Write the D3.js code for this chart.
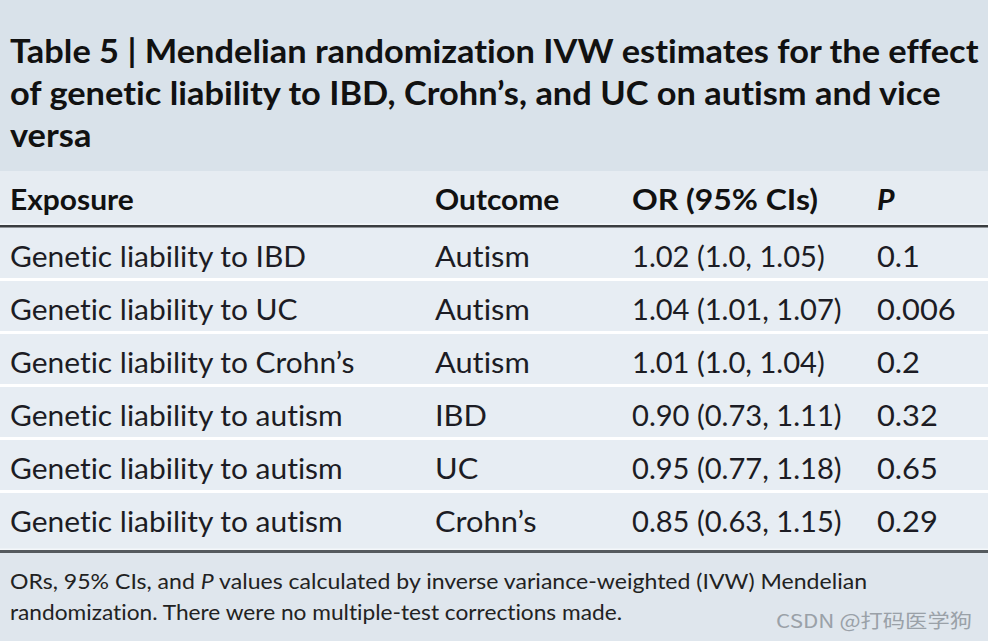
<!DOCTYPE html>
<html>
<head>
<meta charset="utf-8">
<script src="https://cdn.jsdelivr.net/npm/d3@7/dist/d3.min.js"></script>
<style>
  html, body { margin: 0; padding: 0; background: #dfe6ed; }
  svg { display: block; }
  text { font-variant-ligatures: none; }
</style>
</head>
<body>
<script>
// ---- data ----
const titleLines = [
  "Table 5 | Mendelian randomization IVW estimates for the effect",
  "of genetic liability to IBD, Crohn\u2019s, and UC on autism and vice",
  "versa"
];
const columns = ["Exposure", "Outcome", "OR (95% CIs)", "P"];
const exposures = [
  "Genetic liability to IBD",
  "Genetic liability to UC",
  "Genetic liability to Crohn\u2019s",
  "Genetic liability to autism",
  "Genetic liability to autism",
  "Genetic liability to autism"
];
const outcomes = ["Autism", "Autism", "Autism", "IBD", "UC", "Crohn\u2019s"];
const orEstimates = ["1.02", "1.04", "1.01", "0.90", "0.95", "0.85"];
const ciLower = ["1.0", "1.01", "1.0", "0.73", "0.77", "0.63"];
const ciUpper = ["1.05", "1.07", "1.04", "1.11", "1.18", "1.15"];
const pValues = ["0.1", "0.006", "0.2", "0.32", "0.65", "0.29"];
const footnoteLines = [
  ["ORs, 95% CIs, and ", "P", " values calculated by inverse variance-weighted (IVW) Mendelian"],
  ["randomization. There were no multiple-test corrections made."]
];
const watermark = "CSDN @\u6253\u7801\u533b\u5b66\u72d7";

// ---- layout ----
const W = 988, H = 641;
const svg = d3.select("body").append("svg").attr("width", W).attr("height", H);
const font = "Lato, 'Open Sans', sans-serif";

// column positions and per-column horizontal stretch of type
const colX = d3.scaleOrdinal().domain(columns).range([10, 435, 632, 877]);
const bodyStretch = d3.scaleOrdinal().domain(columns).range([1.07, 1.1, 1.04, 1.1]);
const headStretch = d3.scaleOrdinal().domain(columns).range([1.07, 1.07, 1.14, 1.08]);

// backgrounds
svg.append("rect").attr("x", 0).attr("y", 0).attr("width", W).attr("height", H).attr("fill", "#dfe6ed");
svg.append("rect").attr("x", 0).attr("y", 0).attr("width", W).attr("height", 171).attr("fill", "#d9e2ea");
svg.append("rect").attr("x", 0).attr("y", 171).attr("width", W).attr("height", 55).attr("fill", "#e6ecf2");
svg.append("rect").attr("x", 0).attr("y", 226).attr("width", W).attr("height", 323).attr("fill", "#e7edf3");

// title
svg.append("g").selectAll("text").data(titleLines).join("text")
  .attr("transform", (d, i) => `translate(10,${63 + i * 42}) scale(1.043,1)`)
  .attr("font-family", font).attr("font-weight", 700).attr("font-size", 33)
  .attr("fill", "#111")
  .text(d => d);

// header
svg.append("g").selectAll("text").data(columns).join("text")
  .attr("transform", d => `translate(${colX(d)},210) scale(${headStretch(d)},1)`)
  .attr("font-family", font).attr("font-weight", 700).attr("font-size", 28)
  .attr("font-style", d => d === "P" ? "italic" : "normal")
  .attr("fill", "#111")
  .text(d => d);

// rows
const rowIdx = d3.range(exposures.length);
const y = d3.scaleBand().domain(rowIdx).range([226.5, 544.5]).paddingInner(0);

const rows = svg.append("g").selectAll("g").data(rowIdx).join("g")
  .attr("transform", i => `translate(0,${y(i)})`);
// white separators between rows
svg.append("g").selectAll("rect").data(rowIdx.slice(1)).join("rect")
  .attr("x", 0).attr("y", i => y(i) - 1.5).attr("width", W).attr("height", 3)
  .attr("fill", "#ffffff");

const cellData = i => [
  { col: "Exposure", text: exposures[i] },
  { col: "Outcome", text: outcomes[i] },
  { col: "OR (95% CIs)", text: `${orEstimates[i]} (${ciLower[i]}, ${ciUpper[i]})` },
  { col: "P", text: pValues[i] }
];
rows.selectAll("text").data(i => cellData(i)).join("text")
  .attr("transform", d => `translate(${colX(d.col)},${y.bandwidth() / 2 + 13.5}) scale(${bodyStretch(d.col)},1)`)
  .attr("font-family", font).attr("font-size", 28)
  .attr("fill", "#1c1c24")
  .text(d => d.text);

// header rules (double line)
svg.append("rect").attr("x", 0).attr("y", 223.5).attr("width", W).attr("height", 1.5).attr("fill", "#f4f7fa");
svg.append("rect").attr("x", 0).attr("y", 225).attr("width", W).attr("height", 2.5).attr("fill", "#3a3d40");
// bottom rules
svg.append("rect").attr("x", 0).attr("y", 548.5).attr("width", W).attr("height", 1.5).attr("fill", "#f4f7fa");
svg.append("rect").attr("x", 0).attr("y", 550).attr("width", W).attr("height", 3).attr("fill", "#555a5e");

// footnote
const fn = svg.append("g");
footnoteLines.forEach((parts, li) => {
  const t = fn.append("text")
    .attr("x", 10).attr("y", 589 + li * 31)
    .attr("font-family", font).attr("font-size", 22)
    .attr("fill", "#222")
    .attr("textLength", li === 0 ? 857 : 612)
    .attr("lengthAdjust", "spacingAndGlyphs");
  t.selectAll("tspan").data(parts).join("tspan")
    .attr("font-style", d => d === "P" ? "italic" : "normal")
    .text(d => d);
});

// watermark
svg.append("text").attr("x", 972).attr("y", 628).attr("text-anchor", "end")
  .attr("font-family", "'Noto Sans CJK SC', sans-serif").attr("font-size", 19)
  .attr("fill", "#9aa1a8").attr("textLength", 196).attr("lengthAdjust", "spacingAndGlyphs")
  .text(watermark);
</script>
</body>
</html>
